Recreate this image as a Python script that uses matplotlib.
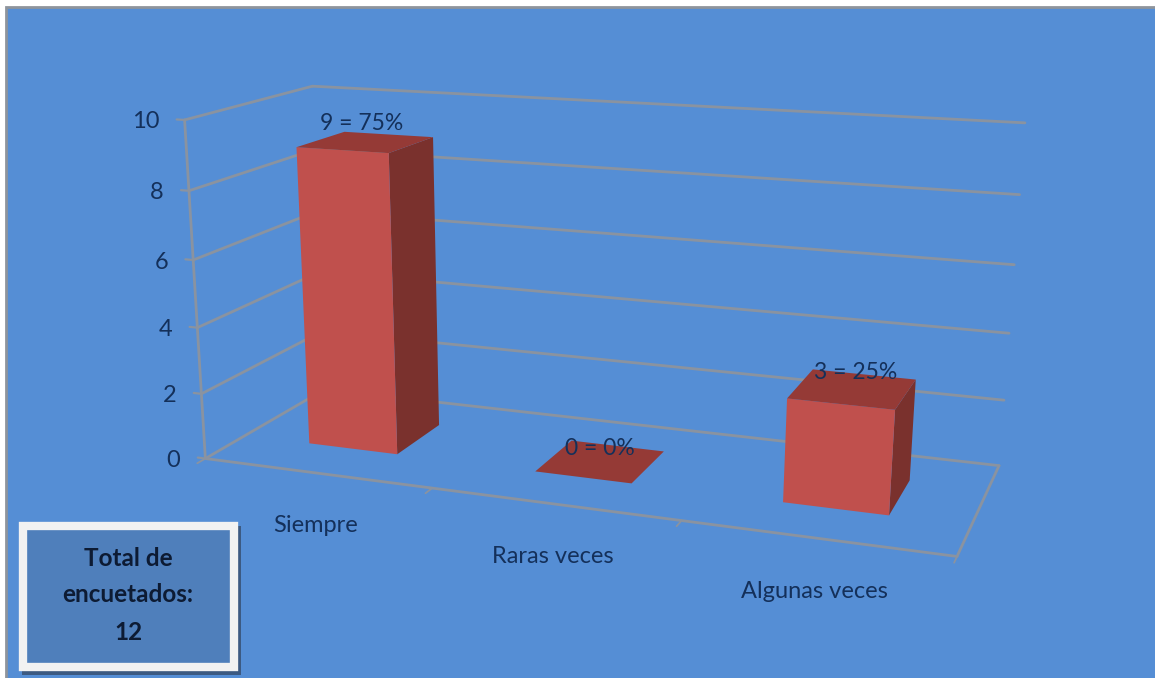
# coding:utf8
"""
Barras 3D dibujadas a mano con una camara ajustada a las esquinas del grafico
"""
import numpy as np
import matplotlib
matplotlib.use("Agg")
import matplotlib.pyplot as plt
from matplotlib.patches import Polygon, Rectangle

plt.rcParams['font.family'] = ['Lato', 'DejaVu Sans']

categorias = ["Siempre", "Raras veces", "Algunas veces"]
valores = [9, 0, 3]
porcentajes = [75, 0, 25]
total = 12
ticks_y = [0, 2, 4, 6, 8, 10]

W, H = 1155, 678
fondo = "#558ED5"
caja = "#4F7FBB"
rojo_frente = "#C0504D"
rojo_lado = "#7A312D"
rojo_arriba = "#953A36"
gris = "#8A93A0"
texto = "#14305A"

# camara: (categoria, profundidad, valor) -> pixel
esquinas = [((0, 0, 0), (205, 458)), ((0, 0, 10), (185, 120)),
            ((0, 1, 0), (325, 390)), ((0, 1, 10), (312, 86)),
            ((3, 0, 0), (957, 557)), ((3, 1, 0), (999, 465)),
            ((3, 1, 10), (1025, 123))]
A, b = [], []
for (X, Y, Z), (u, v) in esquinas:
    A.append([X, Y, Z, 1, 0, 0, 0, 0, -u*X, -u*Y, -u*Z])
    A.append([0, 0, 0, 0, X, Y, Z, 1, -v*X, -v*Y, -v*Z])
    b += [u, v]
P = np.append(np.linalg.lstsq(np.array(A, float), np.array(b, float), rcond=None)[0], 1).reshape(3, 4)


def proy(x, y, z):
    q = P @ np.array([x, y, z, 1.0])
    return q[0]/q[2], q[1]/q[2]


fig = plt.figure(figsize=(W/100, H/100), dpi=100)
ax = fig.add_axes([0, 0, 1, 1])
ax.set_xlim(0, W)
ax.set_ylim(H, 0)
ax.axis("off")

ax.add_patch(Rectangle((6, 7), W, H, fc=fondo, ec="#8E949C", lw=2, zorder=0))


def linea(p1, p2, lw=2.0):
    ax.plot(*zip(proy(*p1), proy(*p2)), color=gris, lw=lw, zorder=1, solid_capstyle="round")


# paredes y piso
for t in ticks_y:
    linea((-0.035, 0, t), (0, 0, t), 1.6)
    linea((0, 0, t), (0, 1, t))
    linea((0, 1, t), (3, 1, t))
    x0, y0 = proy(0, 0, t)
    ax.annotate(str(t), (x0, y0), xytext=(-25, -2), textcoords="offset pixels",
                ha="right", va="center", fontsize=17, color=texto)
linea((0, 0, 0), (0, 0, 10))
linea((0, 0, 0), (3, 0, 0))
linea((3, 0, 0), (3, 1, 0))
for i in range(4):
    linea((i, -0.06, 0), (i, 0, 0), 1.3)

# barras
ancho = 0.2
y1, y2 = 0.31, 0.71
desp_etiqueta = [(-3, 19), (0, 14), (4, 17)]
for i, (c, v, pc) in enumerate(zip(categorias, valores, porcentajes)):
    x1, x2 = i + 0.5 - ancho, i + 0.5 + ancho
    if v > 0:
        ax.add_patch(Polygon([proy(x2, y1, 0), proy(x2, y2, 0), proy(x2, y2, v), proy(x2, y1, v)],
                             fc=rojo_lado, ec="none", zorder=3))
        ax.add_patch(Polygon([proy(x1, y1, 0), proy(x2, y1, 0), proy(x2, y1, v), proy(x1, y1, v)],
                             fc=rojo_frente, ec="none", zorder=3))
    ax.add_patch(Polygon([proy(x1, y1, v), proy(x2, y1, v), proy(x2, y2, v), proy(x1, y2, v)],
                         fc=rojo_arriba, ec="none", zorder=3))
    xt, yt = proy(i + 0.5, 0.5, v)
    ax.annotate("%d = %d%%" % (v, pc), (xt, yt), xytext=desp_etiqueta[i], textcoords="offset pixels",
                ha="center", va="center", fontsize=16.5, color=texto, zorder=5)
    xc, yc = proy(i + 0.5, 0, 0)
    ax.annotate(c, (xc, yc), xytext=(-1, -53), textcoords="offset pixels",
                ha="center", va="center", fontsize=17, color=texto, zorder=5)

# caja del total
ax.add_patch(Rectangle((22, 526), 219, 149, fc="#3C5A82", ec="none", zorder=6))
ax.add_patch(Rectangle((23, 526), 211, 141, fc=caja, ec="#F2F2F2", lw=6, zorder=7))
for y_txt, s in zip([558, 595, 632], ["Total de", "encuetados:", str(total)]):
    ax.text(128, y_txt, s, ha="center", va="center", fontsize=17.5, fontweight="bold",
            color="#0D1B33", zorder=8)

fig.savefig("out.png", dpi=100, facecolor="white")
